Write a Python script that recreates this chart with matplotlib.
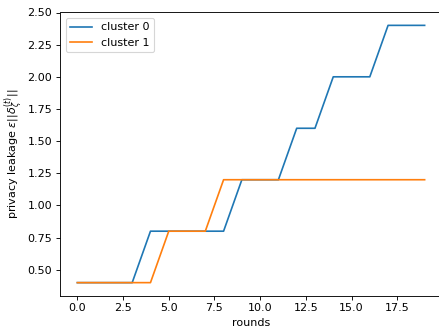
import matplotlib
matplotlib.use("Agg")
import matplotlib.pyplot as plt

# --- data ---
rounds = list(range(20))
cluster0 = [0.4, 0.4, 0.4, 0.4, 0.8, 0.8, 0.8, 0.8, 0.8, 1.2,
            1.2, 1.2, 1.6, 1.6, 2.0, 2.0, 2.0, 2.4, 2.4, 2.4]
cluster1 = [0.4, 0.4, 0.4, 0.4, 0.4, 0.8, 0.8, 0.8, 1.2, 1.2,
            1.2, 1.2, 1.2, 1.2, 1.2, 1.2, 1.2, 1.2, 1.2, 1.2]

# the reference looks like a default figure shrunk to ~80%, so render at 80 dpi
DPI = 80
fig = plt.figure(figsize=(439 / DPI, 332 / DPI), dpi=DPI)
# axes runs slightly past the right edge, like the cropped original
ax = fig.add_axes([60 / 439, 36.5 / 332, 382 / 439, 283 / 332])

ax.plot(rounds, cluster0, label="cluster 0")
ax.plot(rounds, cluster1, label="cluster 1")

ax.set_xlabel("rounds")
ax.set_ylabel(r"privacy leakage $\epsilon||\delta_\zeta^{(t)}||$", labelpad=1)
ax.legend(loc="upper left")

fig.savefig("out.png", dpi=DPI)
